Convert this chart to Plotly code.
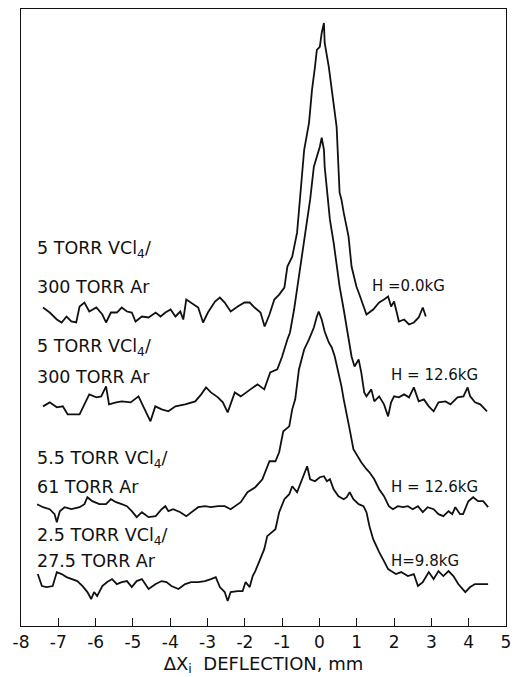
import plotly.graph_objects as go

# Deflection profiles: beam position (mm) vs. detector signal (arb. units)
x_h00 = [-7.41, -7.23, -7.04, -6.91, -6.78, -6.65, -6.52, -6.43, -6.30, -6.17, -5.98, -5.82, -5.72,
         -5.59, -5.43, -5.30, -5.16, -5.03, -4.93, -4.76, -4.58, -4.39, -4.26, -4.13, -3.99, -3.86,
         -3.73, -3.65, -3.57, -3.39, -3.25, -3.12, -2.99, -2.80, -2.67, -2.54, -2.38, -2.19, -2.01,
         -1.87, -1.74, -1.58, -1.47, -1.34, -1.21, -1.08, -0.94, -0.86, -0.73, -0.60, -0.52, -0.41,
         -0.28, -0.20, -0.12, -0.07, 0.01, 0.06, 0.12, 0.14, 0.25, 0.33, 0.41, 0.46, 0.54, 0.59,
         0.65, 0.78, 0.86, 0.99, 1.07, 1.18, 1.26, 1.44, 1.60, 1.73, 1.84, 1.92, 2.00, 2.13, 2.27,
         2.40, 2.53, 2.66, 2.77, 2.85]
y_h00 = [319, 314, 307, 304, 310, 305, 304, 320, 324, 315, 319, 312, 304,
         314, 314, 319, 315, 314, 305, 310, 309, 314, 310, 314, 317, 310,
         315, 307, 327, 322, 319, 304, 314, 325, 329, 324, 315, 320, 324,
         324, 319, 314, 300, 312, 327, 332, 339, 360, 370, 394, 427, 477,
         504, 537, 560, 577, 580, 594, 604, 584, 560, 537, 517, 500, 434, 427,
         414, 390, 360, 340, 332, 320, 312, 317, 324, 327, 330, 320, 325, 305, 307,
         302, 304, 309, 319, 310]

x_h126a = [-7.41, -7.23, -7.04, -6.88, -6.75, -6.43, -6.30, -6.17, -5.98, -5.85, -5.72, -5.64, -5.45,
           -5.30, -5.06, -4.85, -4.71, -4.53, -4.40, -4.23, -4.05, -3.86, -3.60, -3.33, -3.17, -3.04,
           -2.91, -2.72, -2.59, -2.46, -2.27, -2.11, -1.85, -1.66, -1.48, -1.32, -1.13, -1.00, -0.86,
           -0.79, -0.68, -0.60, -0.52, -0.41, -0.33, -0.25, -0.15, -0.07, 0.01, 0.06, 0.12, 0.14,
           0.20, 0.25, 0.28, 0.38, 0.46, 0.54, 0.65, 0.78, 0.86, 0.94, 1.05, 1.12, 1.20, 1.26, 1.39,
           1.47, 1.60, 1.73, 1.84, 1.92, 2.00, 2.13, 2.27, 2.40, 2.53, 2.66, 2.80, 2.93, 3.06, 3.19,
           3.38, 3.51, 3.70, 3.86, 3.97, 4.04, 4.17, 4.31, 4.44, 4.49]
y_h126a = [220, 224, 219, 220, 212, 212, 222, 232, 229, 230, 240, 222, 224,
           225, 224, 230, 219, 205, 220, 217, 215, 220, 222, 225, 232, 239,
           234, 229, 224, 214, 234, 230, 237, 242, 237, 254, 257, 270, 287,
           294, 317, 337, 360, 384, 407, 427, 460, 470, 480, 489, 477, 460,
           437, 417, 407, 384, 360, 340, 317, 287, 270, 260, 267, 254, 234, 230, 237,
           225, 230, 222, 210, 224, 230, 229, 232, 229, 239, 225, 227, 220, 215, 224,
           225, 222, 229, 230, 239, 230, 224, 222, 217, 215]

x_h126b = [-7.57, -7.41, -7.23, -7.10, -7.04, -6.96, -6.83, -6.65, -6.43, -6.30, -6.22, -6.09, -5.90,
           -5.72, -5.59, -5.45, -5.30, -5.16, -5.03, -4.90, -4.76, -4.58, -4.39, -4.23, -4.13, -4.05,
           -3.92, -3.73, -3.57, -3.44, -3.25, -3.07, -2.91, -2.72, -2.54, -2.38, -2.11, -1.93, -1.72,
           -1.53, -1.34, -1.18, -1.08, -0.97, -0.81, -0.73, -0.65, -0.55, -0.41, -0.28, -0.15, -0.07,
           -0.02, 0.06, 0.14, 0.25, 0.33, 0.41, 0.51, 0.59, 0.65, 0.73, 0.81, 0.91, 0.99, 1.12, 1.26,
           1.34, 1.47, 1.60, 1.73, 1.86, 1.97, 2.10, 2.24, 2.37, 2.50, 2.64, 2.77, 2.90, 3.06, 3.19,
           3.32, 3.46, 3.56, 3.64, 3.77, 3.85, 3.99, 4.12, 4.25, 4.39, 4.52]
y_h126b = [122, 119, 117, 112, 104, 115, 119, 117, 119, 122, 129, 125, 122,
           122, 127, 124, 122, 120, 115, 109, 114, 109, 110, 117, 120, 115,
           117, 114, 110, 114, 119, 120, 119, 120, 120, 117, 124, 134, 139,
           147, 165, 165, 174, 195, 200, 217, 227, 257, 277, 287, 299, 310,
           315, 307, 295, 284, 279, 270, 254, 240, 227, 210, 197, 177, 172, 164, 157,
           154, 147, 137, 130, 120, 117, 120, 119, 120, 117, 120, 114, 119, 117, 112,
           110, 115, 112, 119, 112, 112, 125, 129, 125, 125, 119]

x_h98 = [-7.55, -7.44, -7.31, -7.15, -7.04, -6.91, -6.78, -6.65, -6.49, -6.35, -6.22, -6.12, -6.04,
         -5.96, -5.82, -5.69, -5.56, -5.43, -5.30, -5.16, -5.03, -4.90, -4.76, -4.58, -4.39, -4.23,
         -4.10, -3.97, -3.78, -3.60, -3.44, -3.25, -3.07, -2.91, -2.78, -2.67, -2.54, -2.46, -2.38,
         -2.19, -2.06, -1.98, -1.87, -1.79, -1.72, -1.61, -1.48, -1.40, -1.26, -1.18, -1.08, -0.94,
         -0.81, -0.73, -0.60, -0.52, -0.41, -0.33, -0.25, -0.12, 0.01, 0.12, 0.20, 0.28, 0.38, 0.51,
         0.65, 0.73, 0.81, 0.91, 1.05, 1.18, 1.26, 1.34, 1.44, 1.52, 1.60, 1.73, 1.84, 1.92, 2.05,
         2.19, 2.37, 2.53, 2.64, 2.77, 2.93, 3.06, 3.19, 3.32, 3.46, 3.59, 3.72, 3.91, 4.04, 4.17,
         4.36, 4.52]
y_h98 = [52, 40, 39, 40, 54, 52, 49, 47, 45, 40, 34, 27, 34,
         30, 40, 44, 47, 42, 44, 45, 39, 45, 47, 37, 42, 45,
         44, 40, 37, 42, 44, 44, 45, 47, 49, 39, 34, 25, 34,
         35, 35, 44, 39, 50, 55, 65, 77, 90, 94, 97, 114, 127,
         132, 140, 134, 142, 152, 160, 147, 145, 149, 150, 145, 147, 137, 130,
         127, 129, 134, 127, 122, 120, 114, 100, 87, 80, 74, 65, 57, 55, 52,
         54, 50, 52, 40, 44, 54, 47, 55, 50, 55, 50, 42, 34, 39, 42,
         42, 42]

tick_vals = [-8, -7, -6, -5, -4, -3, -2, -1, 0, 1, 2, 3, 4, 5]
tick_text = ["-8", "-7", "-6", "-5", "-4", "-3", "-2", "-1", "0", "1", "2", "3", "4", "5"]

# (x, y, text) for the sample and field captions
sample_labels = [
    (-7.63, 377, "5 TORR VCl<sub>4</sub>/"), (-7.63, 340, "300 TORR Ar"),
    (-7.63, 279, "5 TORR VCl<sub>4</sub>/"), (-7.63, 249, "300 TORR Ar"),
    (-7.63, 167, "5.5 TORR VCl<sub>4</sub>/"), (-7.63, 139, "61 TORR Ar"),
    (-7.63, 90, "2.5 TORR VCl<sub>4</sub>/"), (-7.63, 65, "27.5 TORR Ar"),
]
field_labels = [
    (1.35, 341, "H =0.0kG"), (1.87, 251, "H = 12.6kG"),
    (1.87, 139, "H = 12.6kG"), (1.87, 65, "H=9.8kG"),
]

FONT = "DejaVu Sans"
INK = "#111111"

fig = go.Figure()
for xs, ys in [(x_h00, y_h00), (x_h126a, y_h126a), (x_h126b, y_h126b), (x_h98, y_h98)]:
    fig.add_trace(go.Scatter(x=xs, y=ys, mode="lines",
                             line=dict(color=INK, width=1.8), showlegend=False))

annotations = []
for lx, ly, txt in sample_labels:
    annotations.append(dict(x=lx, y=ly, xref="x", yref="y", text=txt, showarrow=False,
                            xanchor="left", yanchor="middle",
                            font=dict(family=FONT, size=17.5, color=INK)))
for lx, ly, txt in field_labels:
    annotations.append(dict(x=lx, y=ly, xref="x", yref="y", text=txt, showarrow=False,
                            xanchor="left", yanchor="middle",
                            font=dict(family=FONT, size=15, color=INK)))

fig.update_layout(
    width=518, height=677,
    margin=dict(l=21, r=7, t=9, b=50),
    paper_bgcolor="white", plot_bgcolor="white",
    annotations=annotations,
    xaxis=dict(range=[-8, 5], tickvals=tick_vals, ticktext=tick_text,
               ticks="inside", ticklen=8, tickcolor=INK, tickwidth=1,
               showline=True, linecolor=INK, linewidth=1.3, mirror=True,
               showgrid=False, zeroline=False,
               tickfont=dict(family=FONT, size=17, color=INK),
               title=dict(text="ΔX<sub>i</sub>  DEFLECTION, mm", standoff=6,
                          font=dict(family=FONT, size=18, color=INK))),
    yaxis=dict(range=[0, 618], showticklabels=False, ticks="",
               showline=True, linecolor=INK, linewidth=1.3, mirror=True,
               showgrid=False, zeroline=False),
)

fig.write_html("out.html")
